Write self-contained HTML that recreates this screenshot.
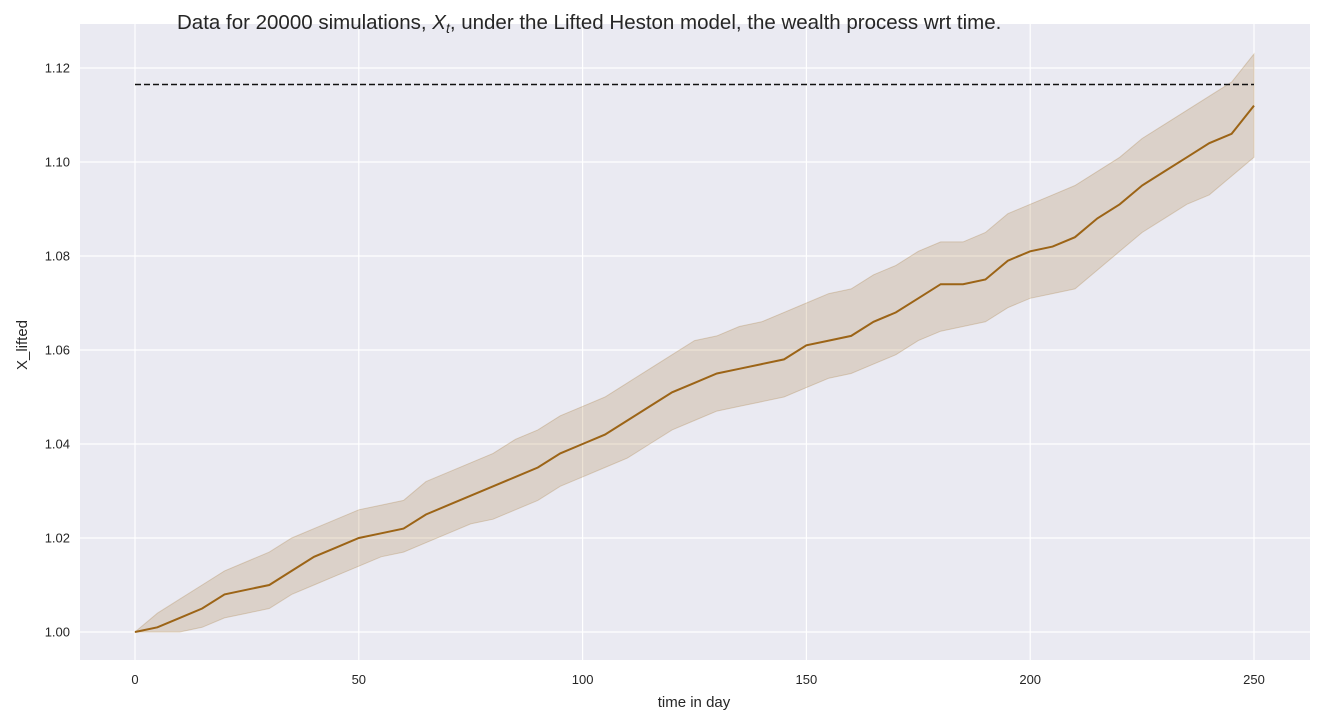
<!DOCTYPE html>
<html><head><meta charset="utf-8"><style>
body{margin:0;background:#fff;font-family:"Liberation Sans",sans-serif;}
svg{display:block}
</style></head><body>
<svg id="chart" width="1337" height="716">
<rect x="80" y="24" width="1230" height="636" fill="#eaeaf2"/>
<g id="grid"></g><g id="marks"></g><g id="axes"></g>
<text x="177" y="29" font-size="20.5" fill="#262626">Data for 20000 simulations, <tspan font-style="italic">X</tspan><tspan font-style="italic" font-size="14" dy="4">t</tspan><tspan dy="-4">, under the Lifted Heston model, the wealth process wrt time.</tspan></text>
<text x="694" y="707" font-size="15" text-anchor="middle" fill="#262626">time in day</text>
<text x="27" y="345" font-size="15" text-anchor="middle" fill="#262626" transform="rotate(-90 27 345)">X_lifted</text>
</svg>
<script>
const days=[0,5,10,15,20,25,30,35,40,45,50,55,60,65,70,75,80,85,90,95,100,105,110,115,120,125,130,135,140,145,150,155,160,165,170,175,180,185,190,195,200,205,210,215,220,225,230,235,240,245,250];
const meanVals=[1.000,1.001,1.003,1.005,1.008,1.009,1.010,1.013,1.016,1.018,1.020,1.021,1.022,1.025,1.027,1.029,1.031,1.033,1.035,1.038,1.040,1.042,1.045,1.048,1.051,1.053,1.055,1.056,1.057,1.058,1.061,1.062,1.063,1.066,1.068,1.071,1.074,1.074,1.075,1.079,1.081,1.082,1.084,1.088,1.091,1.095,1.098,1.101,1.104,1.106,1.112];
const upperVals=[1.000,1.004,1.007,1.010,1.013,1.015,1.017,1.020,1.022,1.024,1.026,1.027,1.028,1.032,1.034,1.036,1.038,1.041,1.043,1.046,1.048,1.050,1.053,1.056,1.059,1.062,1.063,1.065,1.066,1.068,1.070,1.072,1.073,1.076,1.078,1.081,1.083,1.083,1.085,1.089,1.091,1.093,1.095,1.098,1.101,1.105,1.108,1.111,1.114,1.117,1.123];
const lowerVals=[1.000,1.000,1.000,1.001,1.003,1.004,1.005,1.008,1.010,1.012,1.014,1.016,1.017,1.019,1.021,1.023,1.024,1.026,1.028,1.031,1.033,1.035,1.037,1.040,1.043,1.045,1.047,1.048,1.049,1.050,1.052,1.054,1.055,1.057,1.059,1.062,1.064,1.065,1.066,1.069,1.071,1.072,1.073,1.077,1.081,1.085,1.088,1.091,1.093,1.097,1.101];
const refLevel=1.1165;
const xTicks=[0,50,100,150,200,250];
const yTicks=[1.00,1.02,1.04,1.06,1.08,1.10,1.12];
const NS="http://www.w3.org/2000/svg";
const xs=d=>135+d*(1254-135)/250;
const ys=v=>632-(v-1)*(632-68)/0.12;
function mk(tag,attrs,parent){const e=document.createElementNS(NS,tag);for(const k in attrs)e.setAttribute(k,attrs[k]);document.getElementById(parent).appendChild(e);return e;}
xTicks.forEach(t=>{
 const l=mk('line',{x1:xs(t),x2:xs(t),y1:24,y2:660,stroke:'#fff','stroke-width':1.2},'grid');
 
 
 const tx=mk('text',{x:xs(t),y:684,'font-size':13,'text-anchor':'middle',fill:'#262626'},'axes');tx.textContent=t;
 
 
});
yTicks.forEach(t=>{
 const l=mk('line',{x1:80,x2:1310,y1:ys(t),y2:ys(t),stroke:'#fff','stroke-width':1.2},'grid');
 
 
 const tx=mk('text',{x:70,y:ys(t)+4.5,'font-size':13,'text-anchor':'end',fill:'#262626'},'axes');tx.textContent=t.toFixed(2);
 
 
});
let pts=days.map((d,i)=>xs(d)+','+ys(upperVals[i]));
for(let i=days.length-1;i>=0;i--)pts.push(xs(days[i])+','+ys(lowerVals[i]));
const band=mk('polygon',{points:pts.join(' '),fill:'rgba(160,110,40,0.2)',stroke:'rgba(160,110,40,0.25)'},'marks');


const line=mk('polyline',{points:days.map((d,i)=>xs(d)+','+ys(meanVals[i])).join(' '),fill:'none',stroke:'#9c6416','stroke-width':2},'marks');


const ref=mk('line',{x1:xs(0),x2:xs(250),y1:ys(refLevel),y2:ys(refLevel),stroke:'#111','stroke-width':1.5,'stroke-dasharray':'6,3'},'marks');


</script>
</body></html>
